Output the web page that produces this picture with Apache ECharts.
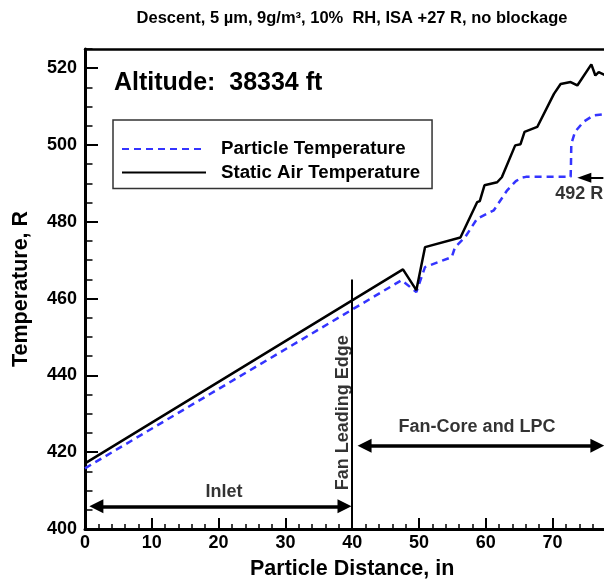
<!DOCTYPE html>
<html>
<head>
<meta charset="utf-8">
<script src="https://cdn.jsdelivr.net/npm/echarts@6/dist/echarts.min.js"></script>
<style>
  html, body { margin: 0; padding: 0; background: #fff; }
  #chart { width: 604px; height: 580px; }
</style>
</head>
<body>
<div id="chart"></div>
<script>
// Static air temperature along the particle path (distance in inches, temperature in R)
const distanceAir = [0, 47.6, 49.6, 50.9, 56.2, 58.7, 59.1, 59.8, 61.7, 62.4, 64.4, 65.2, 65.8, 67.7, 70.2, 71.2, 72.7, 73.7, 75.8, 76.4, 76.9, 78];
const tempAir = [417.1, 467.6, 462.2, 473.4, 475.9, 485.1, 485.4, 489.5, 490.3, 491.6, 499.9, 500.2, 503.4, 504.7, 513.3, 515.9, 516.4, 515.5, 521.0, 518.1, 519.0, 518.1];

// Particle temperature along the same path
const distanceParticle = [0, 47.4, 49.6, 50.9, 54.9, 55.4, 56.9, 58.7, 61.2, 63.2, 64.5, 65.4, 66.0, 72.7, 72.75, 72.8, 73.35, 74.6, 76.1, 78];
const tempParticle = [415.8, 464.8, 461.7, 468.2, 470.8, 473.4, 476.0, 480.8, 483.0, 488.2, 490.6, 491.5, 491.7, 491.7, 495.0, 500.3, 503.4, 506.0, 507.7, 508.1];

// Axis ticks
const xTicks = [0, 10, 20, 30, 40, 50, 60, 70, 80];
const yTicks = [400, 420, 440, 460, 480, 500, 520];

// Annotation anchors (data coordinates)
const fanEdge = 40;
const fanEdgeTop = 465;
const inletArrow = { from: 1.7, to: 38.85, level: 405.9 };
const coreArrow = { from: 41.85, to: 76.7, level: 421.7 };
const meltArrow = { from: 74.75, to: 77.6, level: 491.5 };
const notes = [
  { name: 'Inlet', value: [20.8, 409.6], rotate: 0 },
  { name: 'Fan-Core and LPC', value: [58.7, 426.6], rotate: 0 },
  { name: 'Fan Leading Edge', value: [38.6, 430.3], rotate: 90 },
  { name: '492 R', value: [74.0, 487.3], rotate: 0 }
];

const FONT = "'Liberation Sans', Arial, sans-serif";
const BLUE = '#3434ff';

const xRange = { min: xTicks[0], max: xTicks[xTicks.length - 1], interval: xTicks[1] - xTicks[0] };
const yRange = { min: yTicks[0], max: 525, interval: yTicks[1] - yTicks[0] };

const zip = (xs, ys) => xs.map((x, i) => [x, ys[i]]);

const chart = echarts.init(document.getElementById('chart'), null, { renderer: 'canvas' });

chart.setOption({
  animation: false,
  backgroundColor: '#fff',
  grid: { left: 85, top: 49, width: 534.4, height: 480, outerBoundsMode: 'none', containLabel: false },
  graphic: [
    {
      type: 'text', x: 352, y: 18,
      style: {
        text: 'Descent, 5 \u00b5m, 9g/m\u00b3, 10%  RH, ISA +27 R, no blockage',
        font: 'bold 16.5px ' + FONT, fill: '#000', align: 'center', verticalAlign: 'middle'
      }
    },
    {
      type: 'text', x: 114, y: 83.5,
      style: {
        text: 'Altitude:  38334 ft',
        font: 'bold 25px ' + FONT, fill: '#000', align: 'left', verticalAlign: 'middle'
      }
    }
  ],
  legend: {
    data: ['Particle Temperature', 'Static Air Temperature'],
    orient: 'vertical',
    left: 113, top: 120,
    padding: [19, 12, 6, 8],
    itemWidth: 84, itemHeight: 14, itemGap: 3.4,
    borderColor: '#333', borderWidth: 1.5,
    itemStyle: { opacity: 0 },
    textStyle: { fontFamily: FONT, fontWeight: 'bold', fontSize: 18.7, color: '#000', lineHeight: 20, padding: [0, 0, 0, 10] }
  },
  xAxis: [
    {
      type: 'value', min: xRange.min, max: xRange.max, interval: xRange.interval,
      name: 'Particle Distance, in', nameLocation: 'middle', nameGap: 29,
      nameTextStyle: { fontFamily: FONT, fontWeight: 'bold', fontSize: 21.5, color: '#000' },
      axisLine: { show: true, onZero: false, lineStyle: { color: '#000', width: 3 } },
      axisTick: { show: true, inside: true, length: 11, lineStyle: { color: '#000', width: 2 } },
      minorTick: { show: true, splitNumber: 5, length: 5, lineStyle: { color: '#000', width: 1.5 } },
      axisLabel: { margin: 5, fontFamily: FONT, fontWeight: 'bold', fontSize: 18, color: '#000' },
      splitLine: { show: false }
    },
    {
      type: 'value', position: 'top', min: xRange.min, max: xRange.max,
      axisLine: { show: true, onZero: false, lineStyle: { color: '#000', width: 2.5 } },
      axisTick: { show: false }, axisLabel: { show: false }, splitLine: { show: false }
    }
  ],
  yAxis: [
    {
      type: 'value', min: yRange.min, max: yRange.max, interval: yRange.interval,
      name: 'Temperature, R', nameLocation: 'middle', nameGap: 53,
      nameTextStyle: { fontFamily: FONT, fontWeight: 'bold', fontSize: 21.5, color: '#000' },
      axisLine: { show: true, onZero: false, lineStyle: { color: '#000', width: 3 } },
      axisTick: { show: true, inside: true, length: 13, lineStyle: { color: '#000', width: 2 } },
      axisLabel: {
        margin: 8, fontFamily: FONT, fontWeight: 'bold', fontSize: 18, color: '#000',
        showMaxLabel: false,
        formatter: v => (yTicks.indexOf(v) >= 0 ? String(v) : '')
      },
      splitLine: { show: false }
    },
    {
      // minor ticks every 5 R
      type: 'value', position: 'left', min: yRange.min, max: yRange.max, interval: 5,
      axisLine: { show: false },
      axisTick: { show: true, inside: true, length: 7.5, lineStyle: { color: '#000', width: 1.5 } },
      axisLabel: { show: false }, splitLine: { show: false }
    }
  ],
  series: [
    {
      name: 'Particle Temperature', type: 'line',
      data: zip(distanceParticle, tempParticle),
      symbol: 'none', clip: false, z: 3,
      itemStyle: { color: BLUE },
      lineStyle: { color: BLUE, width: 2.5, type: [7, 5] }
    },
    {
      name: 'Static Air Temperature', type: 'line',
      data: zip(distanceAir, tempAir),
      symbol: 'none', clip: false, z: 4,
      itemStyle: { color: '#000' },
      lineStyle: { color: '#000', width: 2.5, type: 'solid' },
      markLine: {
        silent: true, animation: false,
        label: { show: false },
        emphasis: { disabled: true },
        data: [
          [
            { coord: [fanEdge, yRange.min], symbol: 'none', lineStyle: { color: '#000', width: 2, type: 'solid' } },
            { coord: [fanEdge, fanEdgeTop], symbol: 'none' }
          ],
          [
            { coord: [inletArrow.from, inletArrow.level], symbol: 'triangle', symbolSize: [14, 14], lineStyle: { color: '#000', width: 3.5, type: 'solid' } },
            { coord: [inletArrow.to, inletArrow.level], symbol: 'triangle', symbolSize: [14, 14] }
          ],
          [
            { coord: [coreArrow.from, coreArrow.level], symbol: 'triangle', symbolSize: [14, 14], lineStyle: { color: '#000', width: 3.5, type: 'solid' } },
            { coord: [coreArrow.to, coreArrow.level], symbol: 'triangle', symbolSize: [14, 14] }
          ],
          [
            { coord: [meltArrow.from, meltArrow.level], symbol: 'triangle', symbolSize: [10, 14], lineStyle: { color: '#000', width: 2, type: 'solid' } },
            { coord: [meltArrow.to, meltArrow.level], symbol: 'none' }
          ]
        ]
      }
    },
    {
      name: 'notes', type: 'scatter',
      data: notes.map(n => ({
        name: n.name, value: n.value,
        label: { rotate: n.rotate }
      })),
      symbolSize: 0, silent: true, z: 5,
      label: {
        show: true, position: 'inside', formatter: p => p.name,
        fontFamily: FONT, fontWeight: 'bold', fontSize: 18, color: '#000',
        align: 'center', verticalAlign: 'middle'
      }
    }
  ]
});
</script>
</body>
</html>
